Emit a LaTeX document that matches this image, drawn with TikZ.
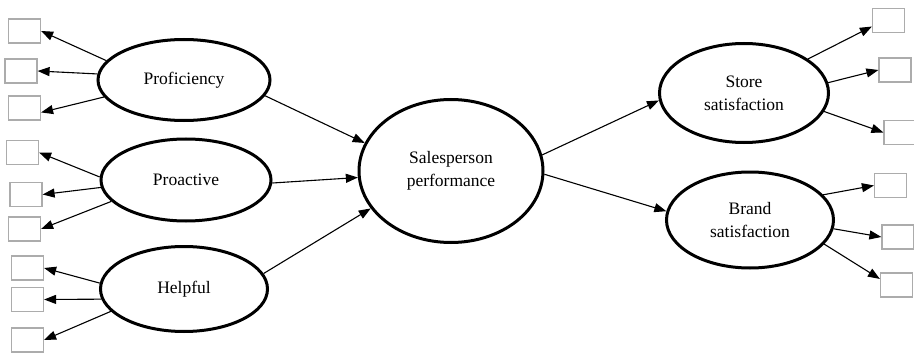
\documentclass[tikz,border=0pt]{standalone}
\usepackage{fontspec}
\setmainfont{Liberation Serif}
\usetikzlibrary{shapes.geometric,arrows.meta}

\begin{document}
\begin{tikzpicture}
                        [
                            x=1pt, y=-1pt,
                            construct/.style={ellipse, draw, line width=3pt, inner sep=0pt, align=center, font=\fontsize{17.5}{23}\selectfont},
                            indicator/.style={rectangle, draw=gray!65, line width=1.2pt, minimum width=32pt, minimum height=24pt, inner sep=0pt},
                            path style/.style={-{Triangle[length=12pt,width=9pt]}, line width=1.1pt}
                        ]
                        \useasboundingbox (0,0) rectangle (914,353);
                        % constructs
                        \node[construct, minimum width=172pt, minimum height=81pt] (prof) at (184,80) {Proficiency};
                        \node[construct, minimum width=170pt, minimum height=82pt] (proa) at (186,180) {Proactive};
                        \node[construct, minimum width=167pt, minimum height=85pt] (help) at (184,289) {Helpful};
                        \node[construct, minimum width=184pt, minimum height=143pt] (perf) at (451,171) {Salesperson\\performance};
                        \node[construct, minimum width=169pt, minimum height=99pt] (store) at (744,93) {Store\\satisfaction};
                        \node[construct, minimum width=167pt, minimum height=96pt] (brand) at (750,220) {Brand\\satisfaction};
                        % indicators
                        \foreach \name/\x/\y in {b1/24.5/31, b2/21/71, b3/24.5/108, b4/22.5/152.5, b5/26/194.5, b6/24.5/229, b7/27.5/268, b8/27.5/299.5, b9/27.5/340, r1/888.5/20.5, r2/895/70, r3/900/132.5, r4/890.5/185.5, r5/898/237, r6/896.5/285}
                            \node[indicator] (\name) at (\x,\y) {};
                        % loadings, left
                        \draw[path style] (prof.166) -- (b1.east);
                        \draw[path style] (prof.176) -- (b2.east);
                        \draw[path style] (prof.192) -- (b3.-15);
                        \draw[path style] (proa.178) -- (b4.east);
                        \draw[path style] (proa.185) -- (b5.east);
                        \draw[path style] (proa.196) -- (b6.east);
                        \draw[path style] (help.176) -- (b7.east);
                        \draw[path style] (help.187) -- (b8.east);
                        \draw[path style] (help.197) -- (b9.east);
                        % structural paths
                        \draw[path style] (prof.349) -- (perf.162);
                        \draw[path style] (proa.358) -- (perf.184);
                        \draw[path style] (help.11) -- (perf.205);
                        \draw[path style] (perf.10) -- (store.185);
                        \draw[path style] (perf.358) -- (brand.174);
                        % loadings, right
                        \draw[path style] (store.28) -- (r1.-160);
                        \draw[path style] (store.7) -- (r2.west);
                        \draw[path style] (store.347) -- (r3.west);
                        \draw[path style] (brand.19) -- (r4.west);
                        \draw[path style] (brand.354) -- (r5.west);
                        \draw[path style] (brand.342) -- (r6.160);
                        \end{tikzpicture}
\end{document}
